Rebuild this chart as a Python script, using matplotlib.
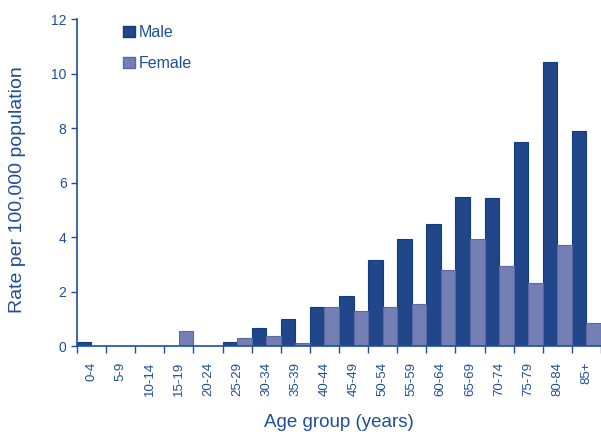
import matplotlib.pyplot as plt
import numpy as np
from matplotlib.patches import Patch

plt.rcParams['font.family'] = ['Liberation Sans', 'DejaVu Sans']

age_groups = ["0-4", "5-9", "10-14", "15-19", "20-24", "25-29", "30-34", "35-39",
              "40-44", "45-49", "50-54", "55-59", "60-64", "65-69", "70-74",
              "75-79", "80-84", "85+"]
male = [0.16, 0, 0, 0, 0, 0.15, 0.67, 1.02, 1.46, 1.85, 3.18, 3.94, 4.49, 5.49,
        5.44, 7.48, 10.43, 7.88]
female = [0, 0, 0, 0.56, 0, 0.30, 0.40, 0.12, 1.43, 1.29, 1.43, 1.56, 2.81, 3.92,
          2.96, 2.33, 3.70, 0.87]

blue_text = "#1f4e9a"
male_col = "#21468a"
female_col = "#7480b4"

fig = plt.figure(figsize=(6.01, 4.32), dpi=100)
ax = fig.add_axes([0.128, 0.198, 0.872, 0.758])

x = np.arange(len(age_groups))
w = 0.5
ax.bar(x, male, width=w, align='edge', color=male_col, edgecolor="#123c80", linewidth=0.8)
ax.bar(x + w, female, width=w, align='edge', color=female_col, edgecolor="#5a68a8", linewidth=0.8)

ax.set_xlim(0, len(age_groups))
ax.set_ylim(0, 12)
ax.set_yticks(range(0, 13, 2))
ax.tick_params(axis='y', colors=blue_text, labelsize=10, length=4, width=1, direction='out')

# labels at category centres, tick marks at category boundaries
ax.set_xticks(x + 0.5)
ax.set_xticklabels(age_groups, rotation=90, fontsize=9.5, color=blue_text)
ax.tick_params(axis='x', which='major', length=0, pad=11)
ax.set_xticks(np.arange(len(age_groups) + 1), minor=True)
ax.tick_params(axis='x', which='minor', length=5, width=1, color=blue_text, direction='out')

for side in ['top', 'right']:
    ax.spines[side].set_visible(False)
for side in ['left', 'bottom']:
    ax.spines[side].set_color(blue_text)
    ax.spines[side].set_linewidth(1.2)

ax.set_ylabel("Rate per 100,000 population", fontsize=14, color=blue_text, labelpad=18)
ax.yaxis.label.set_y(0.48)
ax.set_xlabel("Age group (years)", fontsize=13.5, color=blue_text, labelpad=13)

handles = [Patch(facecolor=male_col, edgecolor="#123c80", label="Male"),
           Patch(facecolor=female_col, edgecolor="#5a68a8", label="Female")]
leg = ax.legend(handles=handles, loc='upper left', bbox_to_anchor=(0.06, 1.025),
                frameon=False, fontsize=11.5, handlelength=0.75, handleheight=0.75,
                handletextpad=0.25, labelspacing=1.0)
for t in leg.get_texts():
    t.set_color(blue_text)

fig.savefig("out.png", dpi=100)
